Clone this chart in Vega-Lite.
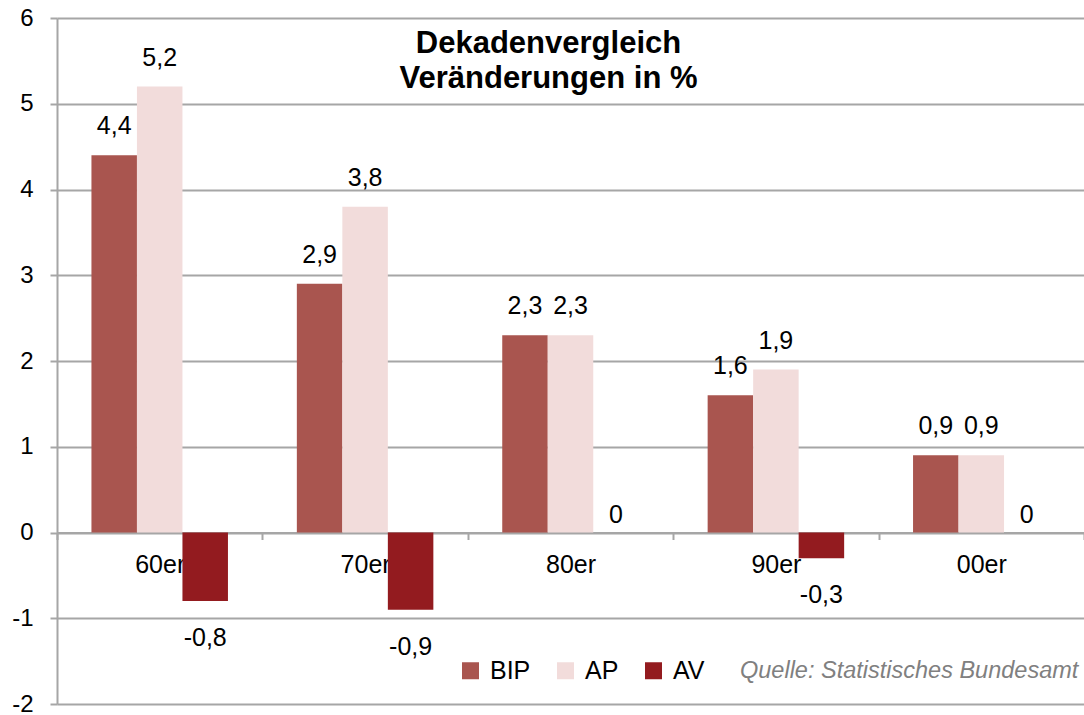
{
  "$schema": "https://vega.github.io/schema/vega-lite/v6.json",
  "width": 1027,
  "height": 686,
  "autosize": {"type": "none"},
  "padding": {"left": 57, "top": 18, "right": 0, "bottom": 11},
  "title": {
    "text": ["Dekadenvergleich", "Veränderungen in %"],
    "fontSize": 31,
    "fontWeight": "bold",
    "font": "Liberation Sans",
    "color": "black",
    "anchor": "middle",
    "frame": "group",
    "baseline": "top",
    "dx": -22,
    "dy": 93,
    "lineHeight": 35
  },
  "data": {
    "values": [
      {"decade": "60er", "series": "BIP", "value": 4.4},
      {"decade": "60er", "series": "AP", "value": 5.2},
      {"decade": "60er", "series": "AV", "value": -0.8},
      {"decade": "70er", "series": "BIP", "value": 2.9},
      {"decade": "70er", "series": "AP", "value": 3.8},
      {"decade": "70er", "series": "AV", "value": -0.9},
      {"decade": "80er", "series": "BIP", "value": 2.3},
      {"decade": "80er", "series": "AP", "value": 2.3},
      {"decade": "80er", "series": "AV", "value": 0},
      {"decade": "90er", "series": "BIP", "value": 1.6},
      {"decade": "90er", "series": "AP", "value": 1.9},
      {"decade": "90er", "series": "AV", "value": -0.3},
      {"decade": "00er", "series": "BIP", "value": 0.9},
      {"decade": "00er", "series": "AP", "value": 0.9},
      {"decade": "00er", "series": "AV", "value": 0}
    ]
  },
  "encoding": {
    "x": {
      "field": "decade",
      "type": "nominal",
      "sort": ["60er", "70er", "80er", "90er", "00er"],
      "scale": {"paddingInner": 0, "paddingOuter": 0},
      "axis": {
        "orient": "bottom",
        "offset": -171.5,
        "title": null,
        "tickBand": "extent",
        "domainColor": "#a6a6a6",
        "domainWidth": 2,
        "tickColor": "#a6a6a6",
        "tickWidth": 2,
        "tickSize": 7,
        "labelFontSize": 25,
        "labelPadding": 13,
        "labelColor": "black",
        "labelAngle": 0,
        "grid": false
      }
    },
    "xOffset": {
      "field": "series",
      "type": "nominal",
      "sort": ["BIP", "AP", "AV"],
      "scale": {"paddingInner": 0, "paddingOuter": 0.757}
    },
    "y": {
      "field": "value",
      "type": "quantitative",
      "scale": {"domain": [-2, 6], "nice": false},
      "axis": {
        "values": [-2, -1, 0, 1, 2, 3, 4, 5, 6],
        "format": "d",
        "grid": true,
        "gridColor": "#a6a6a6",
        "gridWidth": 2,
        "domainColor": "#a6a6a6",
        "domainWidth": 2,
        "tickColor": "#a6a6a6",
        "tickWidth": 2,
        "tickSize": 7,
        "labelFontSize": 24,
        "labelPadding": 17,
        "labelColor": "black",
        "title": null
      }
    }
  },
  "layer": [
    {
      "mark": {"type": "bar"},
      "encoding": {
        "color": {
          "field": "series",
          "type": "nominal",
          "scale": {"domain": ["BIP", "AP", "AV"], "range": ["#a9554f", "#f2dcdb", "#931b1f"]},
          "legend": {
            "orient": "none",
            "legendX": 401,
            "legendY": 640,
            "direction": "horizontal",
            "title": "Quelle: Statistisches Bundesamt",
            "titleOrient": "right",
            "titlePadding": 36,
            "titleFontSize": 23.5,
            "titleFontStyle": "italic",
            "titleFontWeight": "normal",
            "titleColor": "#808080",
            "titleLimit": 600,
            "titleFont": "Liberation Sans",
            "labelFontSize": 25,
            "labelFont": "Liberation Sans",
            "labelColor": "black",
            "labelOffset": 7,
            "symbolType": "square",
            "symbolSize": 289,
            "symbolStrokeWidth": 0,
            "symbolOpacity": 1,
            "columnPadding": 22
          }
        }
      }
    },
    {
      "transform": [{"filter": "datum.value > 0"}],
      "mark": {"type": "text", "dy": -29, "fontSize": 25, "color": "black"},
      "encoding": {"text": {"field": "value", "type": "quantitative", "format": ".1~f"}}
    },
    {
      "transform": [{"filter": "datum.value == 0"}],
      "mark": {"type": "text", "dy": -18, "fontSize": 25, "color": "black"},
      "encoding": {"text": {"field": "value", "type": "quantitative", "format": ".1~f"}}
    },
    {
      "transform": [{"filter": "datum.value < 0"}],
      "mark": {"type": "text", "dy": 37, "fontSize": 25, "color": "black"},
      "encoding": {"text": {"field": "value", "type": "quantitative", "format": ".1~f"}}
    }
  ],
  "config": {
    "font": "Liberation Sans",
    "view": {"stroke": null},
    "locale": {
      "number": {
        "decimal": ",",
        "thousands": ".",
        "grouping": [3],
        "currency": ["", " €"],
        "minus": "-"
      }
    }
  }
}
